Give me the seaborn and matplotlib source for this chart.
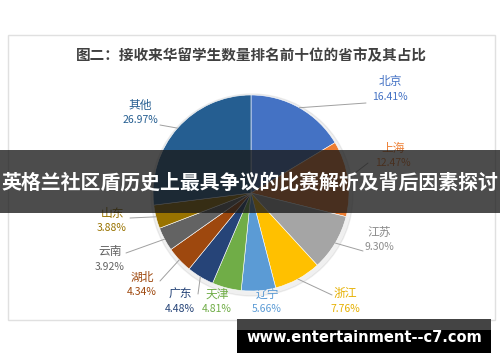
import numpy as np
import matplotlib
matplotlib.use("Agg")
import matplotlib.pyplot as plt
import seaborn as sns
from matplotlib.patches import Rectangle

sns.set_theme(style="white")
plt.rcParams['font.family'] = ['Noto Sans CJK SC', 'DejaVu Sans']

# ---- data ----
provinces = ["北京", "上海", "江苏", "浙江", "辽宁", "天津", "广东", "湖北", "云南", "山东", "其他"]
shares = [16.41, 12.47, 9.30, 7.76, 5.66, 4.81, 4.48, 4.34, 3.92, 3.88, 26.97]
colors = ["#4472C4", "#ED7D31", "#A5A5A5", "#FFC000", "#5B9BD5", "#70AD47",
          "#264478", "#9E480E", "#636363", "#997300", "#255E91"]
label_colors = ["#4472C4", "#ED7D31", "#8C8C8C", "#E6B000", "#5B9BD5", "#70AD47",
                "#264478", "#9E480E", "#636363", "#997300", "#255E91"]
title = "图二：接收来华留学生数量排名前十位的省市及其占比"
banner = "英格兰社区盾历史上最具争议的比赛解析及背后因素探讨"
watermark = "www.entertainment--c7.com"

# ---- layout (pixel coordinates, y downward) ----
W, H = 500, 362
cx, cy, R = 251, 193, 98
label_pos = [(390, 90), (393, 156), (379, 240), (345, 302), (267, 302), (217, 302),
             (180, 302), (142, 285), (110, 260), (112, 221), (140, 113)]
line_end = [(366, 103), (368, 163), (363, 251), (332, 295), None, None,
            (198, 294), (160, 281), (126, 253), (130, 218), (160, 125)]

fig = plt.figure(figsize=(W / 100, H / 100), dpi=100)
ax = fig.add_axes([0, 0, 1, 1])
ax.set_xlim(0, W)
ax.set_ylim(0, H)
ax.set_aspect('equal')
ax.axis('off')

def py(y):
    return H - y

# frame
ax.add_patch(Rectangle((8, py(320)), 487, 285, fill=False, edgecolor="#E0E0E0", lw=1.0, zorder=0))

ax.text(251, py(55), title, ha='center', va='center', fontsize=10.5,
        fontweight='bold', color='#404040')

# soft shadow
ax.add_patch(plt.Circle((cx + 1, py(cy) - 2), R + 3, color='#000000', alpha=0.06, zorder=1))

wedges, _ = ax.pie(shares, colors=colors, startangle=90, counterclock=False,
                   center=(cx, py(cy)), radius=R, frame=True,
                   wedgeprops=dict(linewidth=0.4, edgecolor='white'))
for w in wedges:
    w.set_zorder(2)
ax.set_xlim(0, W)
ax.set_ylim(0, H)
ax.axis('off')

cum = np.cumsum([0] + shares)
for i, (name, val) in enumerate(zip(provinces, shares)):
    mid = np.deg2rad(90 - (cum[i] + val / 2) * 3.6)
    ex, ey = cx + R * np.cos(mid), cy - R * np.sin(mid)
    lx, ly = label_pos[i]
    if line_end[i] is not None:
        ax.plot([ex, line_end[i][0]], [py(ey), py(line_end[i][1])], color='#A0A0A0', lw=0.7, zorder=3)
    ax.text(lx, py(ly - 8), name, ha='center', va='center', fontsize=8.5, color=label_colors[i], zorder=4)
    ax.text(lx, py(ly + 7), f"{val:.2f}%", ha='center', va='center', fontsize=7.5,
            color=label_colors[i], zorder=4)

# banner overlay
ax.add_patch(Rectangle((0, py(213)), W, 63, color='#1a1a1a', alpha=0.78, zorder=10, lw=0))
ax.text(250, py(182), banner, ha='center', va='center', fontsize=14.3, fontweight='bold',
        color='white', zorder=11)

# watermark
ax.add_patch(Rectangle((237, py(353)), 254, 34, color='black', zorder=10, lw=0))
ax.add_patch(Rectangle((237, py(330)), 254, 11, color='#444444', zorder=10, lw=0))
ax.text(364, py(338), watermark, ha='center', va='center', fontsize=10.5, fontweight='bold',
        color='white', family=['DejaVu Sans'], zorder=11)

fig.savefig("out.png", dpi=100)
